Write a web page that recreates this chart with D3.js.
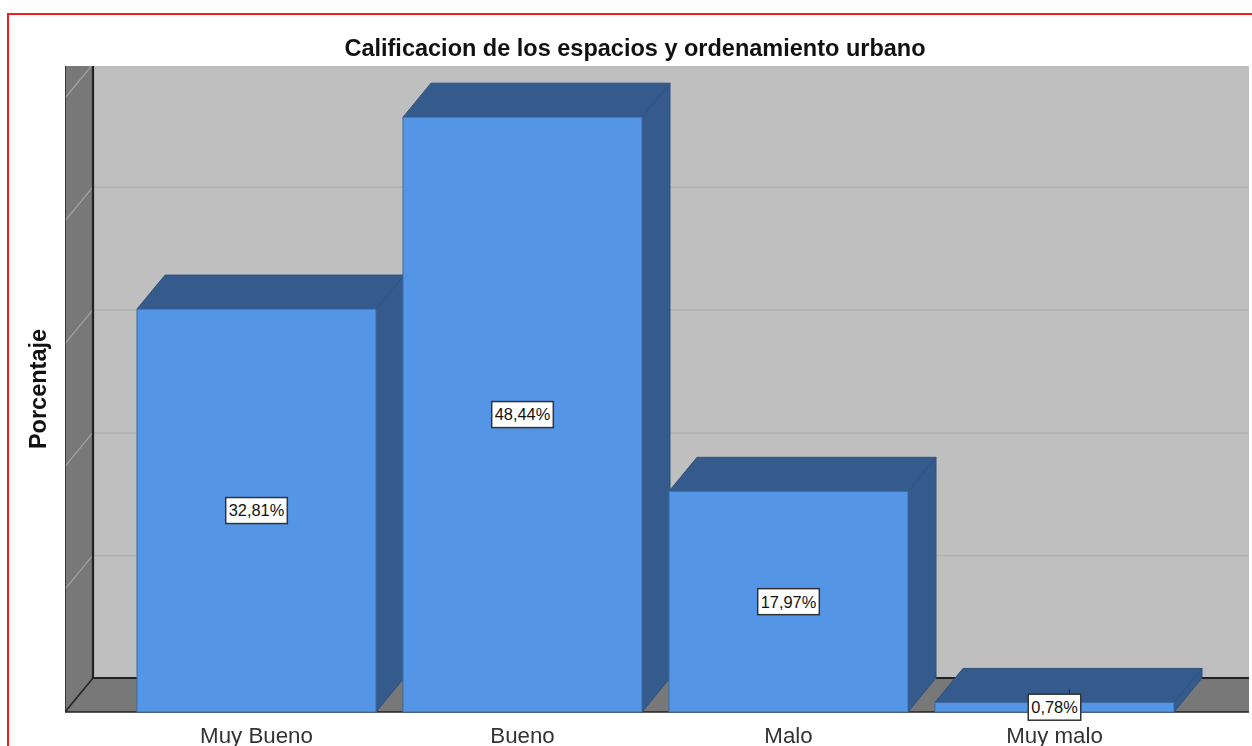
<!DOCTYPE html>
<html>
<head>
<meta charset="utf-8">
<script src="https://cdn.jsdelivr.net/npm/d3@7.9.0/dist/d3.min.js"></script>
<style>
  html, body { margin: 0; padding: 0; background: #fff; overflow: hidden; }
  svg { display: block; font-family: "Liberation Sans", Arial, sans-serif; filter: blur(0.35px); }
  .gridlines line { stroke: #b1b1b1; stroke-width: 1.5; }
  .gridlines .domain { display: none; }
  .x-axis .domain { display: none; }
  .x-axis text { font-size: 22.3px; fill: #333; font-family: "Liberation Sans", Arial, sans-serif; }
</style>
</head>
<body>
<div id="chart"></div>
<script>
const categories = ['Muy Bueno', 'Bueno', 'Malo', 'Muy malo'];
const percentages = [32.81, 48.44, 17.97, 0.78];
const valueLabels = ['32,81%', '48,44%', '17,97%', '0,78%'];
const gridTicks = [10, 20, 30, 40, 50];

const width = 1252;
const height = 746;

// front plane of the plot, the back wall sits up and to the right of it
const plot = { left: 65, right: 1249, top: 66, bottom: 712 };
const depth = { x: 28, y: -34 };

const xScale = d3
  .scaleBand()
  .domain(categories)
  .range([123.5, 1187.5])
  .paddingInner(0.1015)
  .paddingOuter(0.05075);

const yScale = d3.scaleLinear().domain([0, 50]).range([plot.bottom, 98]);

const data = categories.map((category, i) => ({
  category,
  value: percentages[i],
  label: valueLabels[i],
}));

const svg = d3
  .select('#chart')
  .append('svg')
  .attr('width', width)
  .attr('height', height)
  .attr('viewBox', `0 0 ${width} ${height}`);

svg
  .append('defs')
  .append('clipPath')
  .attr('id', 'plot-clip')
  .append('rect')
  .attr('x', plot.left)
  .attr('y', plot.top)
  .attr('width', plot.right - plot.left)
  .attr('height', plot.bottom - plot.top + 2);

// red frame around the picture, it runs off the right and bottom edges
svg
  .append('path')
  .attr('d', `M8,${height} V14 H${width}`)
  .attr('fill', 'none')
  .attr('stroke', '#f01c22')
  .attr('stroke-width', 2);

svg
  .append('text')
  .attr('x', 635)
  .attr('y', 56)
  .attr('text-anchor', 'middle')
  .attr('font-size', 23.5)
  .attr('font-weight', 'bold')
  .attr('fill', '#111')
  .text('Calificacion de los espacios y ordenamiento urbano');

svg
  .append('text')
  .attr('transform', 'translate(46,389) rotate(-90)')
  .attr('text-anchor', 'middle')
  .attr('font-size', 23.5)
  .attr('font-weight', 'bold')
  .attr('fill', '#111')
  .text('Porcentaje');

const scene = svg.append('g').attr('clip-path', 'url(#plot-clip)');
const backLeft = plot.left + depth.x;
const backBottom = plot.bottom + depth.y;

// back wall
scene
  .append('rect')
  .attr('x', backLeft)
  .attr('y', plot.top)
  .attr('width', plot.right - backLeft)
  .attr('height', backBottom - plot.top)
  .attr('fill', '#bfbfbf');

scene
  .append('g')
  .attr('class', 'gridlines')
  .attr('transform', `translate(${backLeft}, ${depth.y})`)
  .call(
    d3.axisLeft(yScale).tickValues(gridTicks).tickFormat('').tickSize(-(plot.right - backLeft))
  );

// left wall and floor
const side = d3.line();
scene
  .append('path')
  .attr('d', side([
    [plot.left, plot.top],
    [backLeft, plot.top],
    [backLeft, backBottom],
    [plot.left, plot.bottom],
  ]) + 'Z')
  .attr('fill', '#787878');

scene
  .append('path')
  .attr('d', side([
    [plot.left, plot.bottom],
    [backLeft, backBottom],
    [plot.right + 40, backBottom],
    [plot.right, plot.bottom],
  ]) + 'Z')
  .attr('fill', '#787878');

// grid lines carried over the left wall
scene
  .append('g')
  .selectAll('line')
  .data(gridTicks)
  .join('line')
  .attr('x1', backLeft)
  .attr('y1', (d) => yScale(d) + depth.y)
  .attr('x2', plot.left)
  .attr('y2', (d) => yScale(d))
  .attr('stroke', '#a4a4a4')
  .attr('stroke-width', 1.2);

// wall edges
const edges = [
  [[backLeft, plot.top], [backLeft, backBottom], 2.2],
  [[backLeft, backBottom], [plot.right, backBottom], 2],
  [[plot.left, plot.bottom], [backLeft, backBottom], 1.5],
  [[plot.left, plot.top], [plot.left, plot.bottom], 1.5],
  [[plot.left, plot.bottom], [plot.right, plot.bottom], 1.5],
];
scene
  .append('g')
  .selectAll('line')
  .data(edges)
  .join('line')
  .attr('x1', (d) => d[0][0])
  .attr('y1', (d) => d[0][1])
  .attr('x2', (d) => d[1][0])
  .attr('y2', (d) => d[1][1])
  .attr('stroke', '#222')
  .attr('stroke-width', (d) => d[2]);

// bars: side, top, then front face
const bars = scene
  .append('g')
  .attr('class', 'bars')
  .selectAll('g')
  .data(data)
  .join('g');

bars
  .append('path')
  .attr('d', (d) => {
    const x1 = xScale(d.category) + xScale.bandwidth();
    const y0 = yScale(d.value);
    return side([
      [x1, y0],
      [x1 + depth.x, y0 + depth.y],
      [x1 + depth.x, plot.bottom + depth.y],
      [x1, plot.bottom],
    ]) + 'Z';
  })
  .attr('fill', '#345b8c')
  .attr('stroke', '#2f5280')
  .attr('stroke-width', 1);

bars
  .append('path')
  .attr('d', (d) => {
    const x0 = xScale(d.category);
    const x1 = x0 + xScale.bandwidth();
    const y0 = yScale(d.value);
    return side([
      [x0, y0],
      [x0 + depth.x, y0 + depth.y],
      [x1 + depth.x, y0 + depth.y],
      [x1, y0],
    ]) + 'Z';
  })
  .attr('fill', '#345b8c')
  .attr('stroke', '#2f5280')
  .attr('stroke-width', 1);

bars
  .append('rect')
  .attr('x', (d) => xScale(d.category))
  .attr('y', (d) => yScale(d.value))
  .attr('width', xScale.bandwidth())
  .attr('height', (d) => plot.bottom - yScale(d.value))
  .attr('fill', '#5495e6')
  .attr('stroke', '#3a6ba6')
  .attr('stroke-width', 1);

// category labels
svg
  .append('g')
  .attr('class', 'x-axis')
  .attr('transform', `translate(0, ${plot.bottom})`)
  .call(d3.axisBottom(xScale).tickSize(0).tickPadding(15));

// value labels, centred on the front face of each bar
const labels = svg
  .append('g')
  .attr('class', 'value-labels')
  .selectAll('g')
  .data(data)
  .join('g')
  .attr('transform', (d) => {
    const cx = xScale(d.category) + xScale.bandwidth() / 2;
    const cy = (yScale(d.value) + plot.bottom) / 2;
    return `translate(${cx}, ${cy})`;
  });

// the smallest bar's label has a short leader going up from its box
labels
  .filter((d) => d.value < 1)
  .append('line')
  .attr('x1', 15)
  .attr('x2', 15)
  .attr('y1', -13)
  .attr('y2', -18)
  .attr('stroke', '#222')
  .attr('stroke-width', 1);

labels.append('rect');

labels
  .append('text')
  .attr('text-anchor', 'middle')
  .attr('dy', '0.36em')
  .attr('font-size', 16.4)
  .attr('fill', '#111')
  .text((d) => d.label);

labels.each(function () {
  const label = d3.select(this);
  const w = label.select('text').node().getComputedTextLength() + 6;
  label
    .select('rect')
    .attr('x', -w / 2)
    .attr('y', -13)
    .attr('width', w)
    .attr('height', 26)
    .attr('fill', '#fff')
    .attr('stroke', '#333')
    .attr('stroke-width', 1.5);
});
</script>
</body>
</html>
